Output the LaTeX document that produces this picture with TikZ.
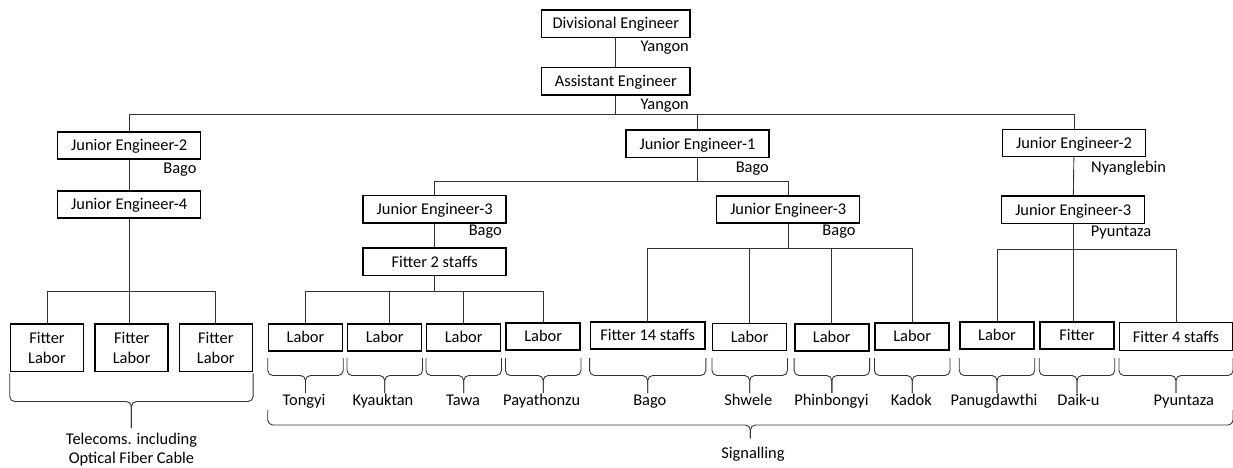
\documentclass[tikz,border=0pt]{standalone}
\usepackage{fontspec}
\setmainfont{Carlito}
\usetikzlibrary{calc}

% curly bracket under a row of boxes: left node, right node, top y, bar y, tip y
\newcommand\orgbrace[5]{%
  \path (#1.south west |- 0,#3) coordinate (bl) (#2.south east |- 0,#3) coordinate (br);
  \path ($(bl)!0.5!(br)$) coordinate (bm);
  \draw[bracket] (bl) -- (bl |- 0,#4) -- (bm |- 0,#4) -- (bm |- 0,#5);
  \draw[bracket] (br) -- (br |- 0,#4) -- (bm |- 0,#4) -- (bm |- 0,#5);
}

\begin{document}
\begin{tikzpicture}[x=1pt,y=-1pt,
  every node/.style={font=\fontsize{16.4}{19.4}\selectfont},
  box/.style={draw=black,line width=1.5pt,inner sep=0pt,minimum height=27.3pt,
              text height=10.6pt,text depth=0pt},
  eng/.style={box,minimum width=143pt},
  small/.style={box,minimum width=74pt,minimum height=27pt},
  pair/.style={draw=black,line width=1.5pt,inner sep=0pt,minimum width=73pt,
               minimum height=47.7pt,align=center},
  conn/.style={draw=black!80,line width=0.9pt},
  bracket/.style={draw=black!80,line width=0.9pt,rounded corners=5pt},
  loc/.style={inner sep=0pt,anchor=base east},
  locw/.style={inner sep=0pt,anchor=base west},
  site/.style={inner sep=0pt,anchor=base},
]
\useasboundingbox (0,0) rectangle (1233,468);

% ---- top of the hierarchy
\node[box,minimum width=148.3pt] (de) at (615.8,23.7) {Divisional Engineer};
\node[loc] (deL) at (689,51.7) {Yangon};
\node[box,minimum width=148.3pt] (ae) at (615.8,81.3) {Assistant Engineer};
\node[loc] (aeL) at (689,110) {Yangon};

\node[eng] (je2l) at (129.2,145.5) {Junior Engineer-2};
\node[loc] (je2lL) at (196.7,173.3) {Bago};
\node[eng] (je1) at (697.5,143.7) {Junior Engineer-1};
\node[loc] (je1L) at (769,172.7) {Bago};
\node[eng] (je2r) at (1074,143) {Junior Engineer-2};
\node[locw] (je2rL) at (1091,172.3) {Nyanglebin};

\node[eng] (je4) at (129.2,204.5) {Junior Engineer-4};
\node[eng] (je3a) at (434.7,209.3) {Junior Engineer-3};
\node[loc] (je3aL) at (502,235.5) {Bago};
\node[eng] (je3b) at (788.2,209.5) {Junior Engineer-3};
\node[loc] (je3bL) at (855.7,235.5) {Bago};
\node[eng] (je3c) at (1073.2,209.7) {Junior Engineer-3};
\node[locw] (je3cL) at (1090.7,236) {Pyuntaza};

\node[eng] (f2) at (434.7,261.7) {Fitter 2 staffs};

% ---- working level
\node[pair] (fl1) at (47,347.8) {Fitter\\Labor};
\node[pair] (fl2) at (131.7,347.8) {Fitter\\Labor};
\node[pair] (fl3) at (215.8,347.8) {Fitter\\Labor};

\node[small] (la1) at (305.5,337.3) {Labor};
\node[small] (la2) at (384.7,337.3) {Labor};
\node[small] (la3) at (463.7,337.5) {Labor};
\node[small] (la4) at (543.2,336.3) {Labor};
\node[box,minimum width=114.7pt,minimum height=27pt] (f14) at (647.7,335.5) {Fitter 14 staffs};
\node[small] (la5) at (749.7,337) {Labor};
\node[small] (la6) at (831.8,337.3) {Labor};
\node[small] (la7) at (912.2,336.3) {Labor};
\node[small] (la8) at (997,335.3) {Labor};
\node[small] (fd) at (1077,335.3) {Fitter};
\node[box,minimum width=112.6pt,minimum height=28pt] (f4) at (1176,336.7) {Fitter 4 staffs};

% ---- connectors
\coordinate (bus0) at (0,114.5);
\draw[conn] (de) -- (ae);
\draw[conn] (ae.south) -- (ae.south |- bus0);
\draw[conn] (je2l.north) -- (je2l.north |- bus0) -- (je2r.north |- bus0) -- (je2r.north);
\draw[conn] (je1.north) -- (je1.north |- bus0);

\coordinate (busT) at (0,291);
\draw[conn] (je2l) -- (je4);
\draw[conn] (je4.south) -- (je4.south |- fl2.north);
\draw[conn] (fl1.north) -- (fl1.north |- busT) -- (fl3.north |- busT) -- (fl3.north);

\coordinate (bus1) at (0,181);
\draw[conn] (je1.south) -- (je1.south |- bus1);
\draw[conn] (je3a.north) -- (je3a.north |- bus1) -- (je3b.north |- bus1) -- (je3b.north);
\draw[conn] (je3a) -- (f2);

\coordinate (bus2) at (0,291.5);
\draw[conn] (f2.south) -- (f2.south |- bus2);
\draw[conn] (la1.north) -- (la1.north |- bus2) -- (la4.north |- bus2) -- (la4.north);
\draw[conn] ([xshift=4.6pt]la2.north) -- ([xshift=4.6pt]la2.north |- bus2);
\draw[conn] (la3.north) -- (la3.north |- bus2);

\coordinate (bus3) at (0,248.3);
\draw[conn] (je3b.south) -- (je3b.south |- bus3);
\draw[conn] (f14.north) -- (f14.north |- bus3) -- (la7.north |- bus3) -- (la7.north);
\draw[conn] (la5.north) -- (la5.north |- bus3);
\draw[conn] (la6.north) -- (la6.north |- bus3);

\coordinate (bus4) at (0,249);
\draw[conn] (je2r) -- (je3c);
\draw[conn] (je3c.south) -- (je3c.south |- fd.north);
\draw[conn] (la8.north) -- (la8.north |- bus4) -- (f4.north |- bus4) -- (f4.north);

% ---- brackets and place names
\orgbrace{fl1}{fl3}{373.3}{401.5}{428}
% base anchor of a two-line node sits on its last line
\node[site,align=center] (tel) at (131.5,463.8) {Telecoms. including\\Optical Fiber Cable};

\foreach \n in {la1,la2,la3,la4,f14,la5,la6,la7,la8,fd,f4}
  {\orgbrace{\n}{\n}{358}{375.5}{393}}

\node[site] (s1) at (304,405.5) {Tongyi};
\node[site] (s2) at (383,405.5) {Kyauktan};
\node[site] (s3) at (463,405.5) {Tawa};
\node[site] (s4) at (541.7,405.5) {Payathonzu};
\node[site] (s5) at (649.8,405.5) {Bago};
\node[site] (s6) at (748.3,405.5) {Shwele};
\node[site] (s7) at (831.5,405.5) {Phinbongyi};
\node[site] (s8) at (911.3,405.5) {Kadok};
\node[site] (s9) at (994,405.5) {Panugdawthi};
\node[site] (s10) at (1078.5,405.5) {Daik-u};
\node[site] (s11) at (1183.7,405.5) {Pyuntaza};

\orgbrace{la1}{f4}{410}{425}{438.3}
\node[site] (sig) at (753,458.3) {Signalling};
\end{tikzpicture}
\end{document}
